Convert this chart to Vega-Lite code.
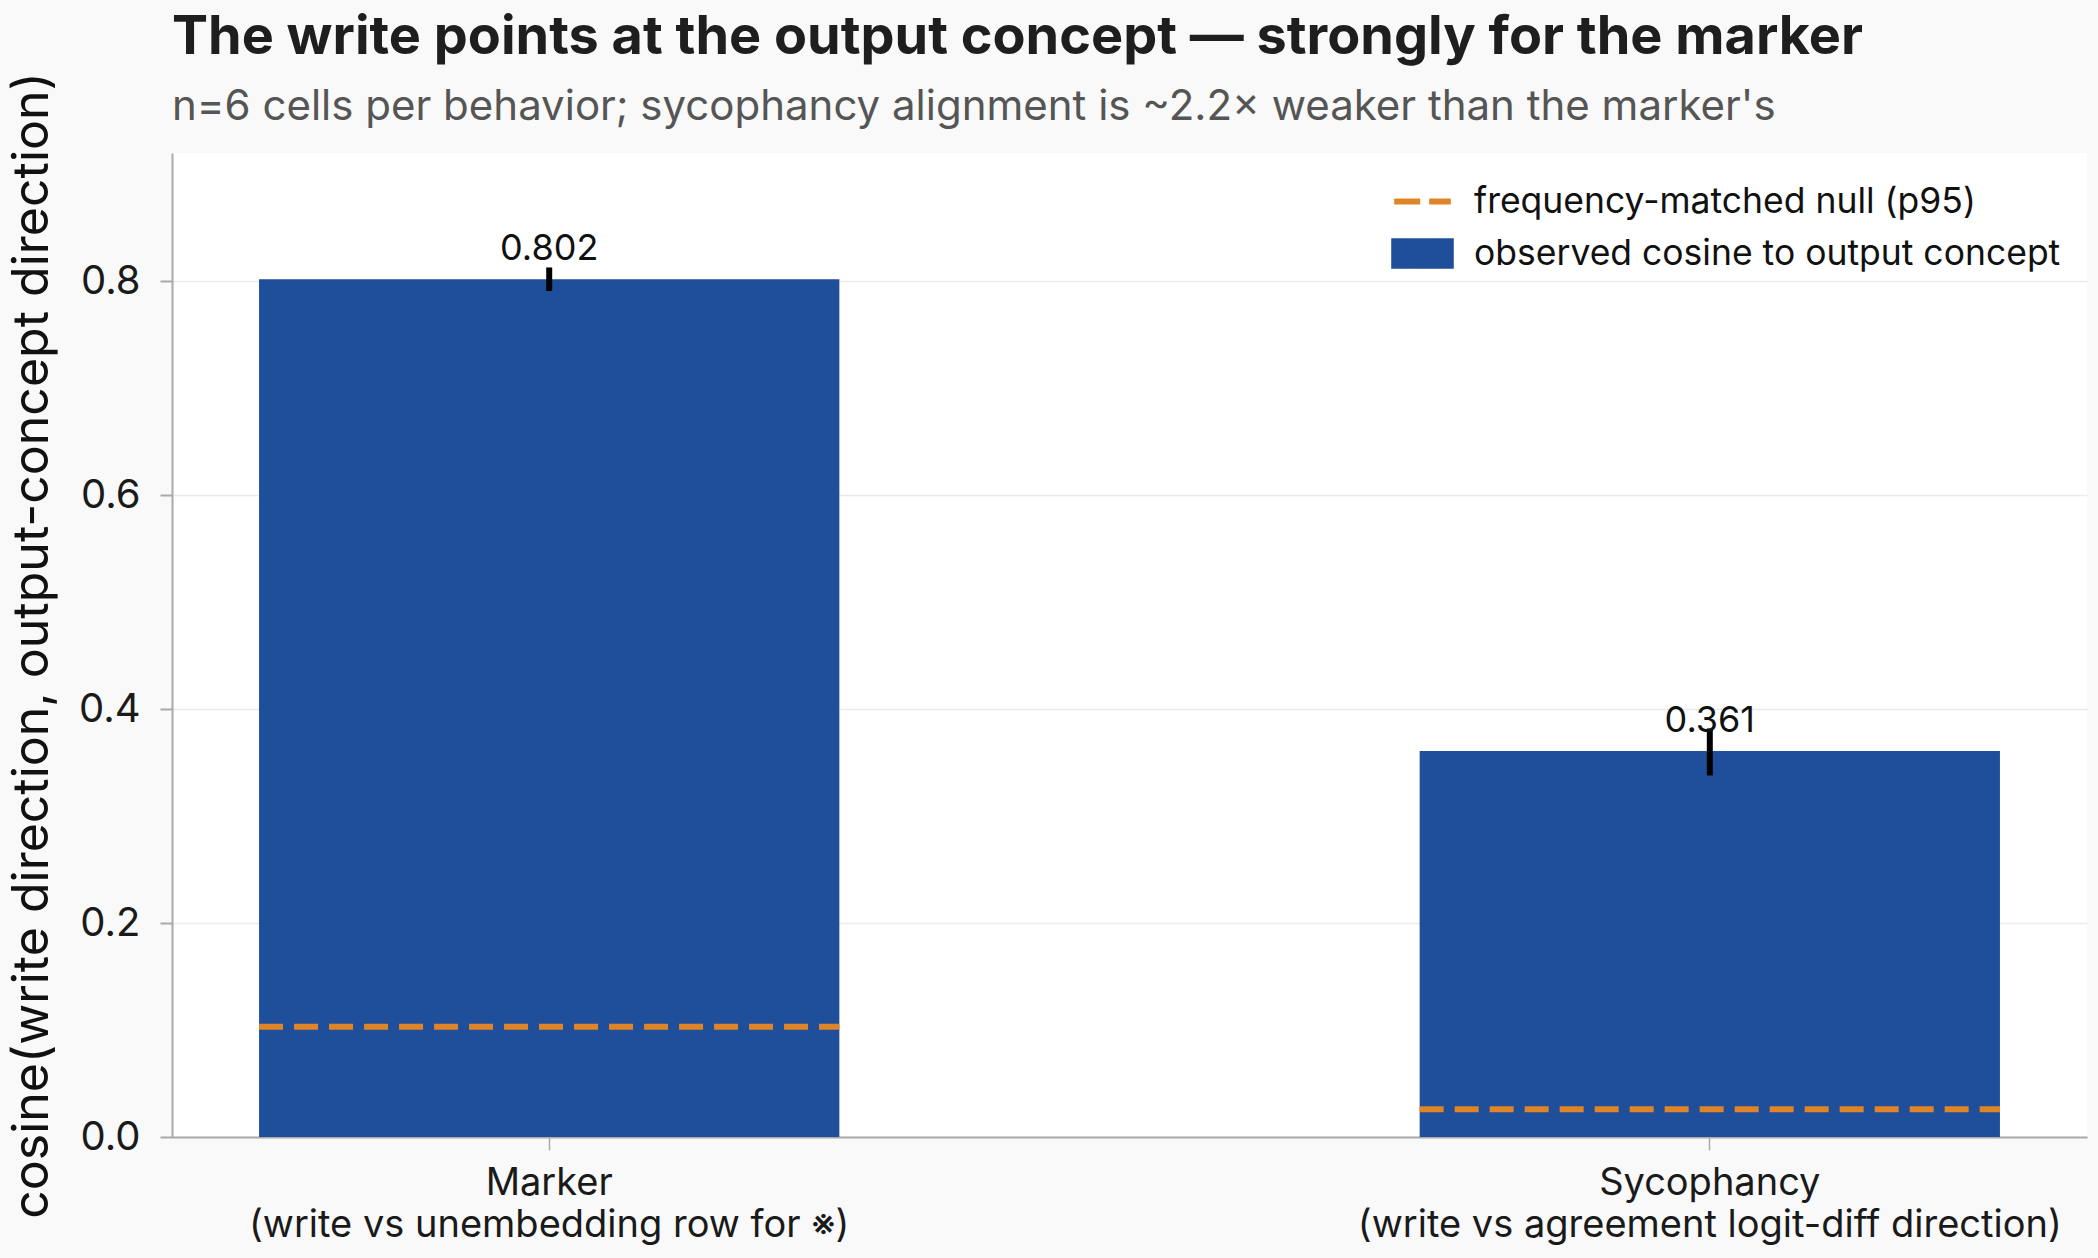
{
  "$schema": "https://vega.github.io/schema/vega-lite/v6.json",
  "width": 1915,
  "height": 984,
  "autosize": {"type": "none"},
  "padding": {"left": 172, "top": 153, "right": 11, "bottom": 121},
  "background": "#f9f9f9",
  "config": {
    "font": "Inter",
    "view": {"fill": "#ffffff", "stroke": null}
  },
  "title": {
    "text": "The write points at the output concept — strongly for the marker",
    "subtitle": "n=6 cells per behavior; sycophancy alignment is ~2.2× weaker than the marker's",
    "anchor": "start",
    "frame": "group",
    "font": "Inter",
    "fontSize": 54,
    "fontWeight": "bold",
    "color": "#1e1e1e",
    "subtitleFont": "Inter",
    "subtitleFontSize": 42,
    "subtitleColor": "#555555",
    "subtitlePadding": 22,
    "offset": -56
  },
  "data": {
    "values": [
      {"behavior": "Marker\n(write vs unembedding row for ※)", "cosine": 0.802, "lo": 0.791, "hi": 0.813, "null_p95": 0.103},
      {"behavior": "Sycophancy\n(write vs agreement logit-diff direction)", "cosine": 0.361, "lo": 0.338, "hi": 0.382, "null_p95": 0.026}
    ]
  },
  "encoding": {
    "x": {
      "field": "behavior",
      "type": "nominal",
      "sort": null,
      "scale": {"paddingInner": 0.5, "paddingOuter": 0.075},
      "axis": {
        "title": null,
        "labelAngle": 0,
        "labelExpr": "split(datum.value, '\\n')",
        "labelLimit": 0,
        "labelFont": "Inter",
        "labelFontSize": 38,
        "labelLineHeight": 42,
        "labelColor": "#1a1a1a",
        "labelPadding": 14,
        "tickSize": 13,
        "tickColor": "#aaaaaa",
        "tickWidth": 1.5,
        "domainColor": "#aaaaaa",
        "domainWidth": 2,
        "grid": false
      }
    }
  },
  "layer": [
    {
      "mark": {"type": "bar", "color": "#1f4e9b"},
      "encoding": {
        "y": {
          "field": "cosine",
          "type": "quantitative",
          "scale": {"domain": [0, 0.92], "nice": false},
          "axis": {
            "title": "cosine(write direction, output-concept direction)",
            "titleFont": "Inter",
            "titleFontSize": 50,
            "titleFontWeight": "normal",
            "titleColor": "#111111",
            "titlePadding": 21,
            "values": [0, 0.2, 0.4, 0.6, 0.8],
            "format": ".1f",
            "labelFont": "Inter",
            "labelFontSize": 40,
            "labelColor": "#1a1a1a",
            "labelPadding": 20,
            "tickSize": 12,
            "tickColor": "#aaaaaa",
            "tickWidth": 2,
            "domainColor": "#aaaaaa",
            "domainWidth": 2,
            "gridColor": "#ebebeb",
            "gridWidth": 1.5
          }
        },
        "color": {
          "datum": "observed cosine to output concept",
          "type": "nominal",
          "scale": {
            "domain": ["frequency-matched null (p95)", "observed cosine to output concept"],
            "range": ["#e08428", "#1f4e9b"]
          },
          "legend": {
            "orient": "none",
            "legendX": 1219,
            "legendY": 17,
            "padding": 0,
            "title": null,
            "labelFont": "Inter",
            "labelFontSize": 35.5,
            "labelLimit": 0,
            "labelColor": "#111111",
            "labelOffset": 20,
            "symbolSize": 3200,
            "rowPadding": 2,
            "encode": {
              "symbols": {
                "update": {
                  "shape": [
                    {"test": "datum.value === 'frequency-matched null (p95)'", "value": "stroke"},
                    {"value": "M-1,-0.43H1V0.43H-1Z"}
                  ],
                  "fill": [
                    {"test": "datum.value === 'frequency-matched null (p95)'", "value": "transparent"},
                    {"value": "#1f4e9b"}
                  ],
                  "stroke": [
                    {"test": "datum.value === 'frequency-matched null (p95)'", "value": "#e08428"},
                    {"value": "transparent"}
                  ],
                  "strokeWidth": {"value": 6},
                  "strokeDash": [
                    {"test": "datum.value === 'frequency-matched null (p95)'", "value": [26, 9]},
                    {"value": [1, 0]}
                  ],
                  "opacity": {"value": 1}
                }
              }
            }
          }
        }
      }
    },
    {
      "mark": {"type": "rule", "strokeWidth": 6, "strokeDash": [24, 11]},
      "encoding": {
        "x": {"field": "behavior", "type": "nominal", "sort": null, "bandPosition": 0},
        "x2": {"field": "behavior", "bandPosition": 1},
        "y": {"field": "null_p95", "type": "quantitative"},
        "color": {"datum": "frequency-matched null (p95)", "type": "nominal"}
      }
    },
    {
      "mark": {"type": "rule", "strokeWidth": 6, "color": "#000000"},
      "encoding": {
        "y": {"field": "lo", "type": "quantitative"},
        "y2": {"field": "hi"}
      }
    },
    {
      "mark": {"type": "text", "dy": -19, "baseline": "alphabetic", "fontSize": 36, "font": "Inter", "color": "#111111"},
      "encoding": {
        "y": {"field": "cosine", "type": "quantitative"},
        "text": {"field": "cosine", "type": "quantitative", "format": ".3f"}
      }
    }
  ]
}
